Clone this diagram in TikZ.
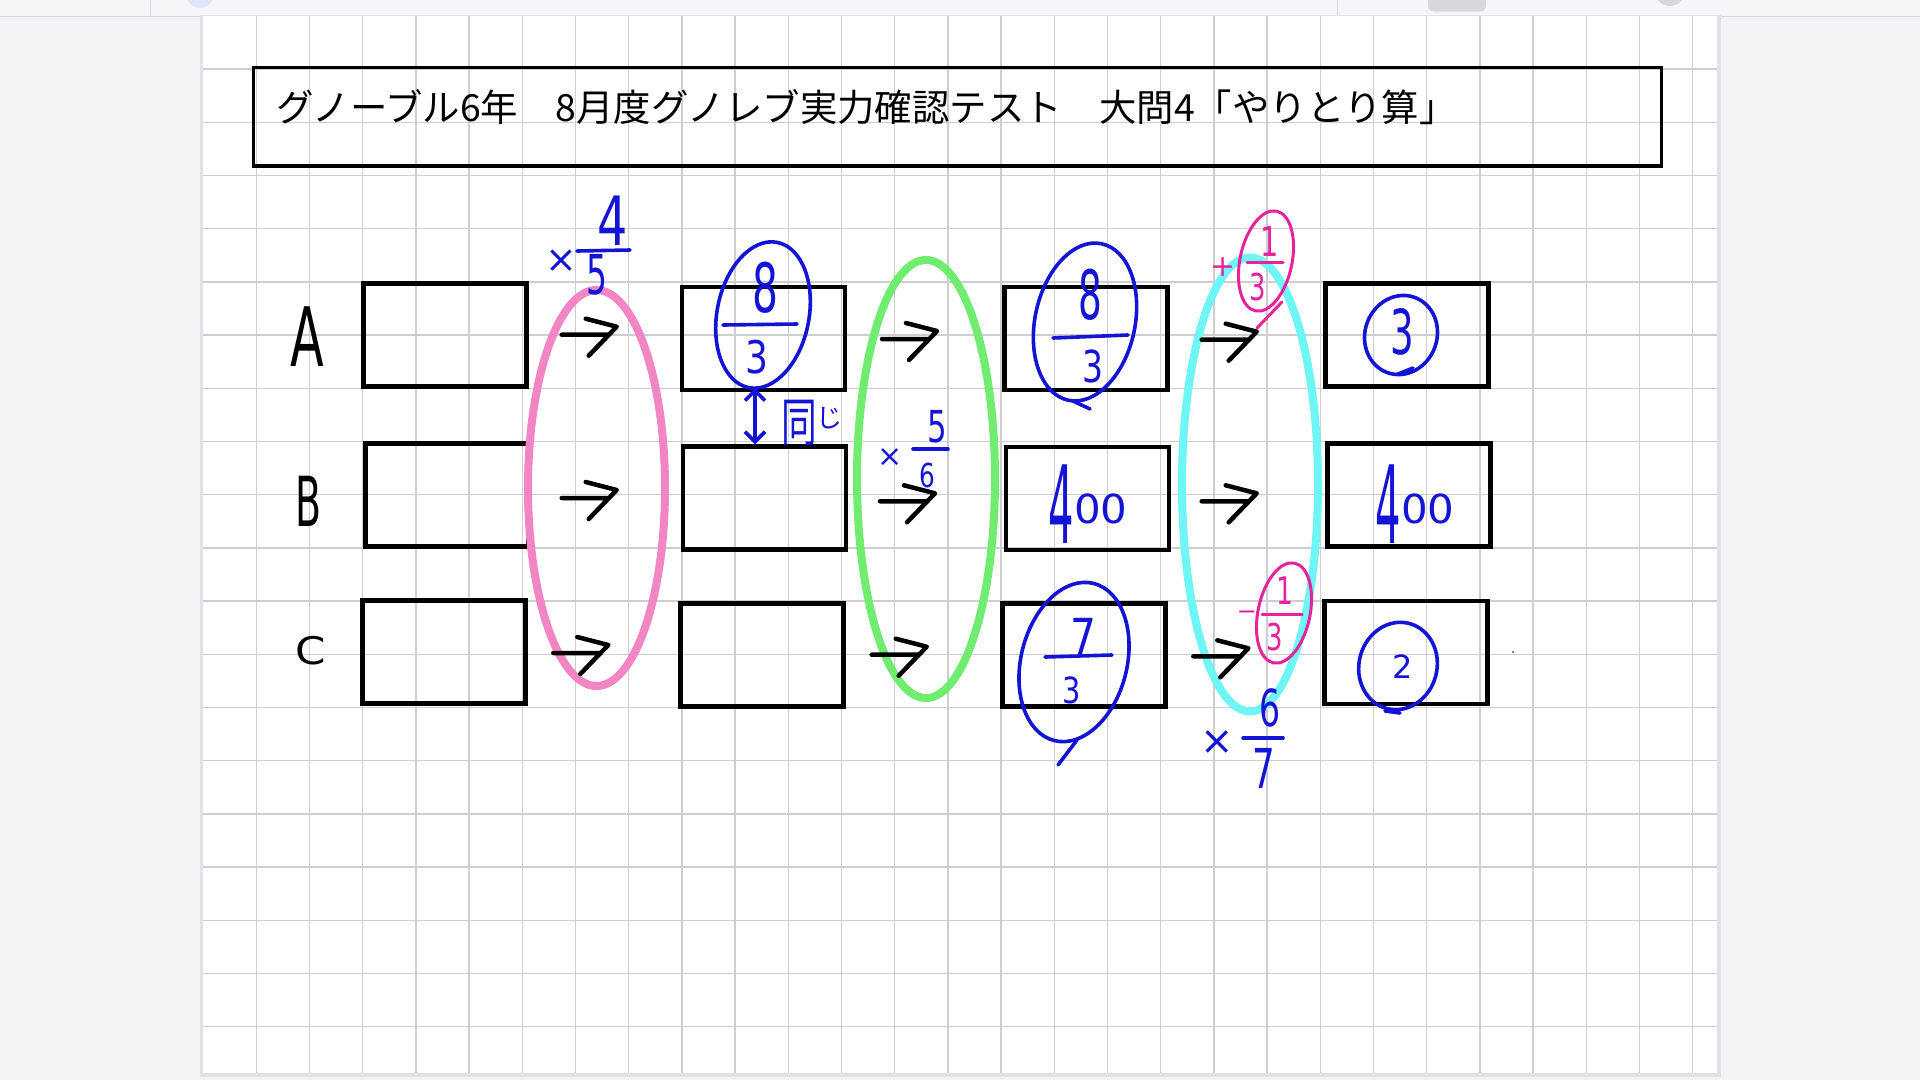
\documentclass[tikz,border=0pt]{standalone}
\usepackage{fontspec}
\newfontfamily\jp{Noto Sans CJK JP}
\newfontfamily\hand{DejaVu Sans}
\usetikzlibrary{arrows.meta}
\definecolor{outbg}{RGB}{243,242,245}
\definecolor{barbg}{RGB}{246,245,248}
\definecolor{gridc}{RGB}{206,206,210}
\definecolor{shadowc}{RGB}{226,226,230}
\definecolor{inkblue}{RGB}{20,20,215}
\definecolor{inkmag}{RGB}{230,35,155}
\definecolor{ringpink}{RGB}{242,134,196}
\definecolor{ringgreen}{RGB}{112,236,112}
\definecolor{ringcyan}{RGB}{110,245,245}
\definecolor{uigray}{RGB}{216,215,220}
\definecolor{uiblue}{RGB}{222,232,250}
\newcommand{\hw}[4]{\scalebox{#2}[#3]{\fontsize{#1}{#1}\selectfont\hand #4}}
\begin{document}
\begin{tikzpicture}[x=1pt,y=-1pt,
  cell/.style={draw=black, line width=4.5pt, minimum width=163pt, minimum height=103pt, inner sep=0pt},
  gridln/.style={draw=gridc, line width=1.4pt},
  ring/.style={line width=8pt},
  inkline/.style={draw=inkblue, line width=3.6pt, line cap=round, line join=round},
  magline/.style={draw=inkmag, line width=3pt, line cap=round, line join=round},
  ink/.style={text=inkblue, inner sep=0pt},
  magink/.style={text=inkmag, inner sep=0pt},
  lbl/.style={text=black, inner sep=0pt},
  harrow/.pic={\draw[line width=4.5pt, line cap=round, line join=round] (-55,8) -- (-8,8) (-31,-8) -- (0,0) -- (-28,29);}
]
\useasboundingbox (0,0) rectangle (1920,1080);
\fill[outbg] (0,0) rectangle (1920,1080);
% top bar
\fill[barbg] (0,0) rectangle (1920,16);
\draw[draw=uigray, line width=1pt] (0,16) -- (1920,16);
\draw[draw=uigray, line width=0.8pt] (150,0) -- (150,16) (1337,0) -- (1337,16);
\fill[uiblue] (200,-6) circle (14);
\fill[uigray, rounded corners=6pt] (1428,-10) rectangle (1486,11.5);
\fill[uigray] (1670,-9) circle (15);
% page
\fill[shadowc] (200,15) rectangle (1721,1077);
\fill[white] (203,16) rectangle (1717,1073);
\foreach \i in {0,...,27} \draw[gridln] ({256.3+53.2*\i},16) -- ({256.3+53.2*\i},1073);
\foreach \j in {0,...,18} \draw[gridln] (203,{69+53.2*\j}) -- (1717,{69+53.2*\j});
% title
\node[draw=black, line width=3.5pt, minimum width=1408pt, minimum height=98.5pt, inner sep=0pt] (titlebox) at (957.6,116.8) {};
\node[anchor=west, inner sep=0pt] (titletext) at (276,107) {\fontsize{37.4}{40}\selectfont\jp グノーブル6年　8月度グノレブ実力確認テスト　大問4「やりとり算」};
% boxes
\node[cell] (a1) at (445,335) {};
\node[cell] (b1) at (447,495) {};
\node[cell] (c1) at (444,652) {};
\node[cell] (a2) at (763.3,338.3) {};
\node[cell] (b2) at (764.7,498) {};
\node[cell] (c2) at (762,655) {};
\node[cell] (a3) at (1085.8,338.3) {};
\node[cell] (b3) at (1087.5,498.3) {};
\node[cell] (c3) at (1083.8,655) {};
\node[cell] (a4) at (1407,335) {};
\node[cell] (b4) at (1409,495) {};
\node[cell] (c4) at (1406,652.5) {};
% row labels
\node[lbl] (la) at (307,337) {\hw{82}{0.6}{1}{A}};
\node[lbl] (lb) at (309,501) {\hw{69}{0.55}{1}{B}};
\node[lbl] (lc) at (311,651) {\hw{38}{1.15}{1}{C}};
% rings
\draw[ring, ringpink] (596.5,488) ellipse [x radius=68.5, y radius=198];
\draw[ring, ringgreen] (926,479) ellipse [x radius=69, y radius=219];
\draw[ring, ringcyan] (1250,484.5) ellipse [x radius=68, y radius=227];
% arrows
\pic at (616.7,326.7) {harrow};
\pic at (616.7,490) {harrow};
\pic at (608.3,645) {harrow};
\pic at (937,331) {harrow};
\pic at (935,493.3) {harrow};
\pic at (926.7,646.7) {harrow};
\pic at (1256.7,331.7) {harrow};
\pic at (1256.7,493.3) {harrow};
\pic at (1248.3,648.3) {harrow};
% x 4/5
\node[ink] (m1x) at (561,261) {\hw{38}{1}{1}{×}};
\node[ink] (m1n) at (613,221) {\hw{68}{0.7}{1}{4}};
\draw[inkline] (577,251) -- (630,250);
\node[ink] (m1d) at (597,275) {\hw{55}{0.6}{1}{5}};
% A2 circled 8/3
\draw[inkline, rotate around={-11:(763,315)}] (763,315) ellipse [x radius=46, y radius=74];
\node[ink] (a2n) at (765,288) {\hw{68}{0.6}{1}{8}};
\draw[inkline] (723,325) -- (797,324);
\node[ink] (a2d) at (757,357) {\hw{45}{0.8}{1}{3}};
% same
\coordinate (dtop) at (755,388);
\draw[inkline, {Straight Barb[length=10pt,width=20pt]}-{Straight Barb[length=10pt,width=20pt]}] (dtop) -- (dtop |- b2.north);
\node[ink, anchor=base west] (same) at (781,441) {\jp\fontsize{42}{42}\selectfont\scalebox{0.85}[1.25]{同}\raisebox{14pt}{\fontsize{26}{26}\selectfont じ}};
% x 5/6
\node[ink] (m2x) at (890,458) {\hw{30}{1}{1}{×}};
\node[ink] (m2n) at (937,427) {\hw{44}{0.7}{1}{5}};
\draw[inkline] (913,449) -- (948,449);
\node[ink] (m2d) at (927,475) {\hw{33}{0.75}{1}{6}};
% A3 circled 8/3
\draw[inkline, rotate around={-12:(1085,322)}] (1085,322) ellipse [x radius=50, y radius=80];
\draw[inkline] (1073,401) -- (1090,409);
\node[ink] (a3n) at (1090,295) {\hw{68}{0.55}{1}{8}};
\draw[inkline] (1053,338) -- (1128,335);
\node[ink] (a3d) at (1093,366) {\hw{44}{0.75}{1}{3}};
% B3 400
\node[ink] (b3v) at (1088,504) {\hw{80}{0.5}{1.35}{4}\raisebox{20pt}{\hw{40}{1.05}{1}{00}}};
% C3 circled 7/3
\draw[inkline, rotate around={-14:(1074,662)}] (1074,662) ellipse [x radius=53, y radius=81];
\draw[inkline] (1077,740) -- (1058,765);
\node[ink] (c3n) at (1083,637) {\hw{51}{0.8}{1}{7}};
\draw[inkline] (1045,657) -- (1112,655);
\node[ink] (c3d) at (1072,690) {\hw{36}{0.8}{1}{3}};
% A4 circled 3
\draw[inkline, rotate around={-20:(1401,335)}] (1401,335) ellipse [x radius=36, y radius=40];
\draw[inkline] (1398,374) -- (1413,368);
\node[ink] (a4v) at (1402,332) {\hw{62}{0.6}{1}{3}};
% B4 400
\node[ink] (b4v) at (1415,504) {\hw{80}{0.5}{1.35}{4}\raisebox{20pt}{\hw{40}{1.05}{1}{00}}};
% C4 circled 2
\draw[inkline, rotate around={-15:(1398,666)}] (1398,666) ellipse [x radius=39, y radius=44];
\draw[inkline] (1385,711) -- (1400,713);
\node[ink] (c4v) at (1403,667) {\hw{32}{1}{1}{2}};
% +1/3
\node[magink] (p1) at (1223,267) {\hw{30}{1}{1}{+}};
\draw[magline, rotate around={-12:(1266,261)}] (1266,261) ellipse [x radius=26, y radius=51];
\draw[magline] (1282,302) -- (1257,328);
\node[magink] (p1n) at (1270,242) {\hw{41}{0.7}{1}{1}};
\draw[magline] (1247,262) -- (1283,262);
\node[magink] (p1d) at (1258,287) {\hw{37}{0.7}{1}{3}};
% -1/3
\node[magink] (q1) at (1247,615) {\hw{24}{1}{1}{−}};
\draw[magline, rotate around={-12:(1284,613)}] (1284,613) ellipse [x radius=26, y radius=51];
\node[magink] (q1n) at (1285,591) {\hw{38}{0.7}{1}{1}};
\draw[magline] (1262,614) -- (1302,614);
\node[magink] (q1d) at (1275,637) {\hw{37}{0.7}{1}{3}};
% x 6/7
\node[ink] (m3x) at (1217,743) {\hw{40}{1}{1}{×}};
\node[ink] (m3n) at (1270,708) {\hw{51}{0.65}{1}{6}};
\draw[inkline] (1243,738) -- (1283,738);
\node[ink] (m3d) at (1264,768) {\hw{55}{0.65}{1}{7}};
% stray dot
\fill[black!70] (1513,652) circle (1.2);
\end{tikzpicture}
\end{document}
